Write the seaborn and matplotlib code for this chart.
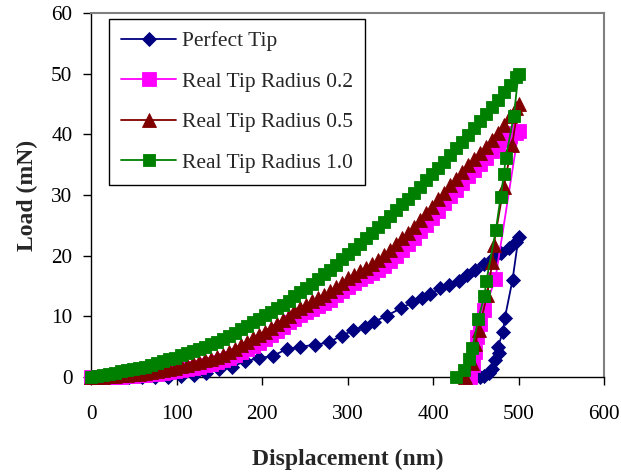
import matplotlib
matplotlib.use("Agg")
import matplotlib.pyplot as plt
import pandas as pd
import seaborn as sns

# ---- Perfect tip (loading then unloading) ----
perfect_load_disp = [0, 15, 30, 45, 60, 75, 90, 105, 120, 135, 150, 165, 180, 197, 213,
                     229, 245, 262, 278, 293, 307, 320, 331, 346, 362, 376, 387, 397, 408,
                     419, 430, 440, 449, 460, 470, 480, 489, 497, 500]
perfect_load_force = [0, 0, 0, 0, 0, 0, 0, 0.1, 0.3, 0.7, 1.3, 1.7, 2.6, 3.1, 3.5,
                      4.6, 5.0, 5.3, 5.7, 6.8, 7.7, 8.3, 9.1, 10.1, 11.3, 12.3, 13.0, 13.7, 14.6,
                      15.2, 15.9, 16.8, 17.7, 18.7, 19.6, 20.4, 21.2, 22.3, 23.0]
perfect_unload_disp = [493, 484, 482, 476, 477, 473, 469, 465, 460, 455]
perfect_unload_force = [16.0, 9.7, 7.5, 5.0, 3.9, 2.8, 1.4, 0.6, 0.2, 0]

# ---- Real tips: shared loading displacements ----
real_load_disp = [0, 7, 14, 21, 28, 35, 42, 49, 56, 63, 70, 77, 84, 91, 98, 105, 112, 119,
                  126, 133, 140, 147, 154, 161, 168, 175, 182, 189, 196, 203, 210, 217, 224,
                  231, 238, 245, 252, 259, 266, 273, 280, 287, 294, 301, 308, 315, 322, 329,
                  336, 343, 350, 357, 364, 371, 378, 385, 392, 399, 406, 413, 420, 427, 434,
                  441, 448, 455, 462, 469, 476, 483, 490, 497, 500]

r02_load_force = [0.0, 0.0, 0.0, 0.0, 0.04, 0.08, 0.12, 0.18, 0.25, 0.33,
                  0.45, 0.55, 0.68, 0.82, 0.96, 1.12, 1.3, 1.48, 1.7, 1.95,
                  2.2, 2.5, 2.8, 3.15, 3.6, 4.1, 4.65, 5.1, 5.6, 6.2,
                  6.9, 7.6, 8.3, 9.0, 9.6, 10.15, 10.65, 11.15, 11.65, 12.2,
                  12.7, 13.45, 14.2, 14.9, 15.55, 16.1, 16.65, 17.15, 17.7, 18.35,
                  19.15, 19.95, 20.9, 21.9, 22.9, 24.0, 25.1, 26.25, 27.4, 28.6,
                  29.8, 30.9, 32.0, 33.15, 34.1, 35.1, 36.1, 37.2, 38.2, 39.1,
                  39.8, 40.3, 40.5]
r02_unload_disp = [473, 460, 455.5, 451.6, 449.6, 446.5, 443.8]
r02_unload_force = [16.2, 11.1, 8.8, 6.6, 4.2, 2.0, 0]

r05_load_force = [0.0, 0.03, 0.07, 0.11, 0.18, 0.25, 0.33, 0.44, 0.54, 0.66,
                  0.8, 0.94, 1.1, 1.33, 1.55, 1.8, 2.0, 2.25, 2.5, 2.75,
                  3.0, 3.3, 3.65, 4.05, 4.6, 5.2, 5.8, 6.35, 6.9, 7.5,
                  8.1, 8.7, 9.4, 10.1, 10.8, 11.35, 11.9, 12.45, 13.0, 13.55,
                  14.1, 14.8, 15.55, 16.3, 16.85, 17.4, 18.0, 18.65, 19.3, 20.1,
                  21.0, 21.9, 22.85, 23.8, 24.7, 25.8, 27.0, 28.1, 29.3, 30.4,
                  31.6, 32.7, 33.8, 34.9, 35.9, 36.9, 37.9, 39.1, 40.3, 41.6,
                  43.0, 44.4, 45.0]
r05_unload_disp = [492.6, 482.8, 471, 469.5, 463.3, 453.5, 449.6, 445.8, 438]
r05_unload_force = [38.3, 31.4, 21.8, 19.0, 13.5, 7.8, 5.5, 2.3, 0]

r10_load_force = [0.0, 0.17, 0.35, 0.53, 0.74, 0.95, 1.15, 1.32, 1.5, 1.7,
                  2.0, 2.3, 2.6, 2.9, 3.2, 3.55, 3.9, 4.25, 4.6, 5.0,
                  5.4, 5.85, 6.3, 6.8, 7.3, 7.9, 8.45, 9.0, 9.6, 10.15,
                  10.75, 11.35, 11.95, 12.6, 13.3, 14.0, 14.7, 15.4, 16.15, 16.9,
                  17.7, 18.5, 19.4, 20.2, 21.1, 22.0, 22.85, 23.7, 24.7, 25.6,
                  26.5, 27.5, 28.5, 29.4, 30.4, 31.4, 32.4, 33.4, 34.5, 35.5,
                  36.6, 37.7, 38.8, 39.9, 41.0, 42.2, 43.3, 44.5, 45.7, 46.9,
                  48.1, 49.4, 50.0]
r10_unload_disp = [494.5, 485, 483, 479, 473.5, 462.5, 460, 453, 446, 442, 436, 427]
r10_unload_force = [43.0, 36.1, 33.5, 29.6, 24.2, 15.9, 13.3, 9.6, 4.7, 3.0, 1.2, 0]

labels = ["Perfect Tip", "Real Tip Radius 0.2", "Real Tip Radius 0.5", "Real Tip Radius 1.0"]
x_ticks = [0, 100, 200, 300, 400, 500, 600]
y_ticks = [0, 10, 20, 30, 40, 50, 60]

series = [
    (labels[0], perfect_load_disp + perfect_unload_disp,
     perfect_load_force + perfect_unload_force, "#000080", "D", 6.7),
    (labels[1], real_load_disp + r02_unload_disp,
     r02_load_force + r02_unload_force, "#FF00FF", "s", 9.6),
    (labels[2], real_load_disp + r05_unload_disp,
     r05_load_force + r05_unload_force, "#800000", "^", 10.0),
    (labels[3], real_load_disp + r10_unload_disp,
     r10_load_force + r10_unload_force, "#008000", "s", 8.6),
]

sns.set_style("ticks")
plt.rcParams["font.family"] = ["Liberation Serif", "DejaVu Serif"]

fig = plt.figure(figsize=(6.21, 4.76), dpi=100)
ax = fig.add_axes([91 / 621, 99 / 476, 513 / 621, 364 / 476])

for name, xs, ys, color, marker, ms in series:
    df = pd.DataFrame({"disp": xs, "load": ys})
    sns.lineplot(data=df, x="disp", y="load", ax=ax, sort=False, estimator=None,
                 errorbar=None, color=color, marker=marker, markersize=ms,
                 markeredgecolor=color, markeredgewidth=0.6, linewidth=1.3,
                 label=name, clip_on=False, zorder=3)

ax.set_xlim(0, 600)
ax.set_ylim(0, 60)
ax.set_xticks(x_ticks)
ax.set_yticks(y_ticks)
ax.set_xticklabels([str(v) for v in x_ticks])
ax.set_yticklabels([str(v) for v in y_ticks])
ax.tick_params(axis="both", direction="out", length=6, width=1.0, color="black",
               labelsize=15.3, labelcolor="black")
ax.tick_params(axis="x", pad=14.5)
ax.tick_params(axis="y", pad=7.5)

for side in ("left", "bottom"):
    ax.spines[side].set_color("black")
    ax.spines[side].set_linewidth(1.0)
for side in ("top", "right"):
    ax.spines[side].set_color("#808080")
    ax.spines[side].set_linewidth(1.5)

ax.set_xlabel("Displacement (nm)", fontsize=17, fontweight="bold")
ax.xaxis.set_label_coords(0.5, -0.198)
ax.set_ylabel("Load (mN)", fontsize=17, fontweight="bold")
ax.yaxis.set_label_coords(-0.103, 0.5)

handles, names = ax.get_legend_handles_labels()
leg = ax.legend(handles, names, loc="upper left",
                bbox_to_anchor=(109.3 / 621, 1 - 19.3 / 476),
                bbox_transform=fig.transFigure, borderaxespad=0, fontsize=15.5,
                frameon=True, fancybox=False, edgecolor="black", framealpha=1,
                borderpad=0.55, labelspacing=0.95, handlelength=2.55,
                handletextpad=0.3)
leg.get_frame().set_linewidth(1.0)

fig.savefig("out.png", dpi=100)
